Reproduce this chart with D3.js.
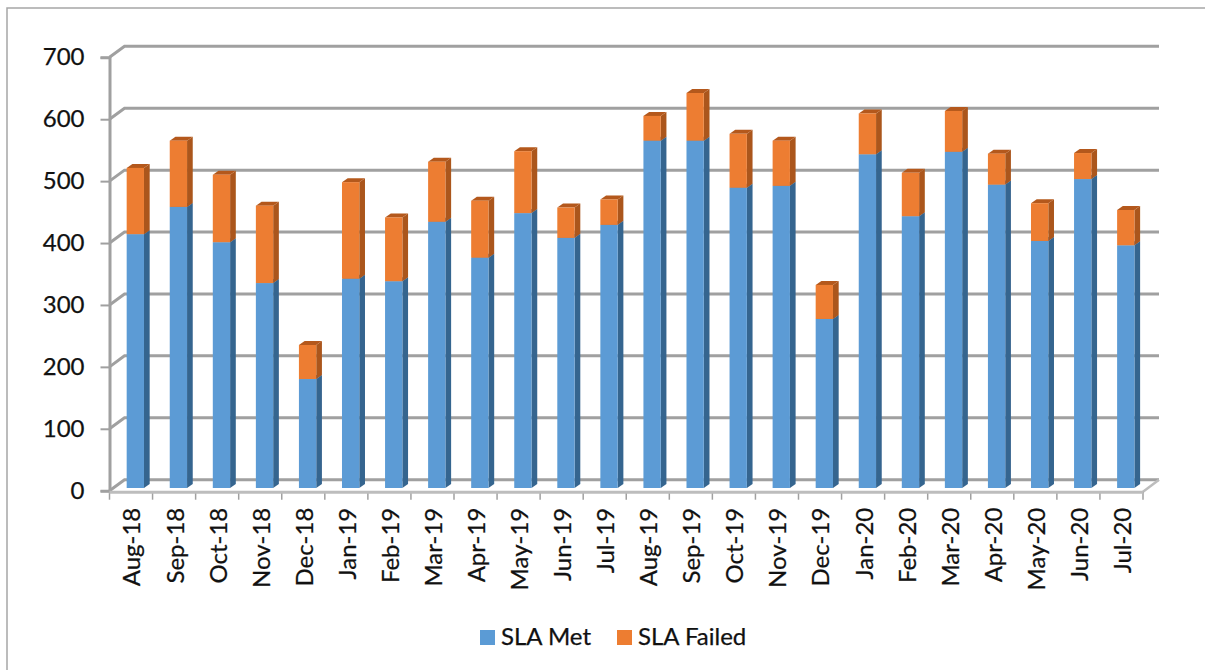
<!DOCTYPE html>
<html>
<head>
<meta charset="utf-8">
<script src="https://cdnjs.cloudflare.com/ajax/libs/d3/7.8.5/d3.min.js"></script>
<style>
    body { margin: 0; background: #fff; }
    svg { display: block; }
    text { font-family: Lato, "Open Sans", sans-serif; fill: #111; stroke: #111; stroke-width: 0.25px; }
</style>
</head>
<body>
<svg id="chart"></svg>
<script>
const months = ['Aug-18', 'Sep-18', 'Oct-18', 'Nov-18', 'Dec-18', 'Jan-19', 'Feb-19', 'Mar-19', 'Apr-19', 'May-19', 'Jun-19', 'Jul-19',
    'Aug-19', 'Sep-19', 'Oct-19', 'Nov-19', 'Dec-19', 'Jan-20', 'Feb-20', 'Mar-20', 'Apr-20', 'May-20', 'Jun-20', 'Jul-20'];
const slaMet = [410, 454, 397, 331, 176, 338, 334, 430, 372, 444, 404, 425, 561, 561, 485, 488, 273, 539, 439, 543, 490, 399, 499, 392];
const slaFailed = [107, 107, 109, 125, 55, 156, 103, 97, 92, 100, 49, 41, 40, 77, 87, 73, 55, 66, 70, 66, 50, 61, 42, 57];
const yTicks = [0, 100, 200, 300, 400, 500, 600, 700];
const seriesNames = ['SLA Met', 'SLA Failed'];

const colors = {
    'SLA Met': { front: '#5b9bd5', side: '#36658f', top: '#41719c' },
    'SLA Failed': { front: '#ed7d31', side: '#ab571d', top: '#b4591d' }
};

const width = 1205, height = 670;
const plot = { left: 109.5, right: 1143, top: 57.3, bottom: 490.7 };
const wallDx = 15, wallDy = -11;
const barDx = 5.7, barDy = -4, barLift = -2.7;

const svg = d3.select('#chart').attr('width', width).attr('height', height);

const defs = svg.append('defs');
defs.append('filter').attr('id', 'soft')
    .append('feGaussianBlur').attr('stdDeviation', 0.45);

// picture frame
svg.append('path')
    .attr('d', d3.line()([[7, height], [7, 8], [width, 8]]))
    .attr('fill', 'none')
    .attr('stroke', '#a6a6a6')
    .attr('stroke-width', 1.5);

const xScale = d3.scaleBand().domain(months).range([plot.left, plot.right]);
const yScale = d3.scaleLinear().domain([0, 700]).range([plot.bottom, plot.top]);

const chart = svg.append('g').attr('filter', 'url(#soft)');
const gray = '#a0a0a0';

// back wall gridlines + diagonals on the left wall
yTicks.forEach(t => {
    const y = yScale(t);
    chart.append('path')
        .attr('d', d3.line()([[plot.left, y], [plot.left + wallDx, y + wallDy], [plot.right + wallDx + 1, y + wallDy]]))
        .attr('fill', 'none')
        .attr('stroke', gray)
        .attr('stroke-width', 3);
});

// floor, right edge
chart.append('path')
    .attr('d', d3.line()([
        [plot.right, plot.bottom + 1],
        [plot.right + wallDx + 1, plot.bottom + wallDy]
    ]))
    .attr('fill', 'none')
    .attr('stroke', '#bdbdbd')
    .attr('stroke-width', 2.5);

// axes
const yAxis = d3.axisLeft(yScale).tickValues(yTicks).tickSize(9).tickPadding(16);
const yAxisG = svg.append('g')
    .attr('transform', `translate(${plot.left},0)`)
    .call(yAxis);
yAxisG.select('.domain').attr('stroke', gray).attr('stroke-width', 3);
yAxisG.selectAll('line').attr('stroke', gray).attr('stroke-width', 2);
yAxisG.selectAll('text').style('font-size', '24px').attr('fill', '#111');

const xAxis = d3.axisBottom(xScale).tickSize(0).tickPadding(0);
const xAxisG = svg.append('g')
    .attr('transform', `translate(0,${plot.bottom + 1})`)
    .call(xAxis);
xAxisG.select('.domain').remove();
xAxisG.selectAll('text')
    .style('font-size', '24px')
    .attr('text-anchor', 'end')
    .attr('fill', '#111')
    .attr('transform', 'translate(1,16) rotate(-90)')
    .attr('x', 0).attr('y', 0).attr('dy', '0.35em');

// x tick marks on band edges
const edges = months.map(m => xScale(m)).concat(plot.right);
svg.append('g').selectAll('line')
    .data(edges)
    .join('line')
    .attr('x1', d => d).attr('x2', d => d)
    .attr('y1', plot.bottom + 1).attr('y2', plot.bottom + 9)
    .attr('stroke', gray)
    .attr('stroke-width', 1.5);

svg.append('line')
    .attr('x1', plot.left).attr('x2', plot.right)
    .attr('y1', plot.bottom + 1.5).attr('y2', plot.bottom + 1.5)
    .attr('stroke', '#bdbdbd')
    .attr('stroke-width', 3);

// stacked 3d bars
const stacked = d3.stack().keys(seriesNames)(months.map((m, i) => ({
    month: m,
    'SLA Met': slaMet[i],
    'SLA Failed': slaFailed[i]
})));

const barWidth = 17.3;
const barX = d => xScale(d.data.month) + (xScale.bandwidth() - barWidth) / 2 + 4.3;
const line = d3.line();

const barGroups = svg.append('g').attr('filter', 'url(#soft)')
    .selectAll('g.series')
    .data(stacked)
    .join('g')
    .attr('class', 'series');

barGroups.each(function (s) {
    const c = colors[s.key];
    const g = d3.select(this).selectAll('g.bar').data(s).join('g').attr('class', 'bar');

    g.append('path')
        .attr('fill', c.side)
        .attr('d', d => {
            const x = barX(d) + barWidth, y0 = yScale(d[0]) + barLift, y1 = yScale(d[1]) + barLift;
            return line([[x, y0], [x + barDx, y0 + barDy], [x + barDx, y1 + barDy], [x, y1]]) + 'Z';
        });

    g.append('path')
        .attr('fill', c.top)
        .attr('d', d => {
            const x = barX(d), y1 = yScale(d[1]) + barLift;
            return line([[x, y1], [x + barDx, y1 + barDy], [x + barWidth + barDx, y1 + barDy], [x + barWidth, y1]]) + 'Z';
        });

    g.append('rect')
        .attr('fill', c.front)
        .attr('x', d => barX(d))
        .attr('y', d => yScale(d[1]) + barLift)
        .attr('width', barWidth)
        .attr('height', d => yScale(d[0]) - yScale(d[1]));
});

// legend
const legendItems = svg.append('g').selectAll('g')
    .data([{ name: seriesNames[0], x: 480 }, { name: seriesNames[1], x: 617 }])
    .join('g')
    .attr('transform', d => `translate(${d.x},630)`);

legendItems.append('rect')
    .attr('width', 15).attr('height', 15)
    .attr('fill', d => colors[d.name].front);

legendItems.append('text')
    .text(d => d.name)
    .attr('x', 21).attr('y', 15)
    .style('font-size', '24px');
</script>
</body>
</html>
